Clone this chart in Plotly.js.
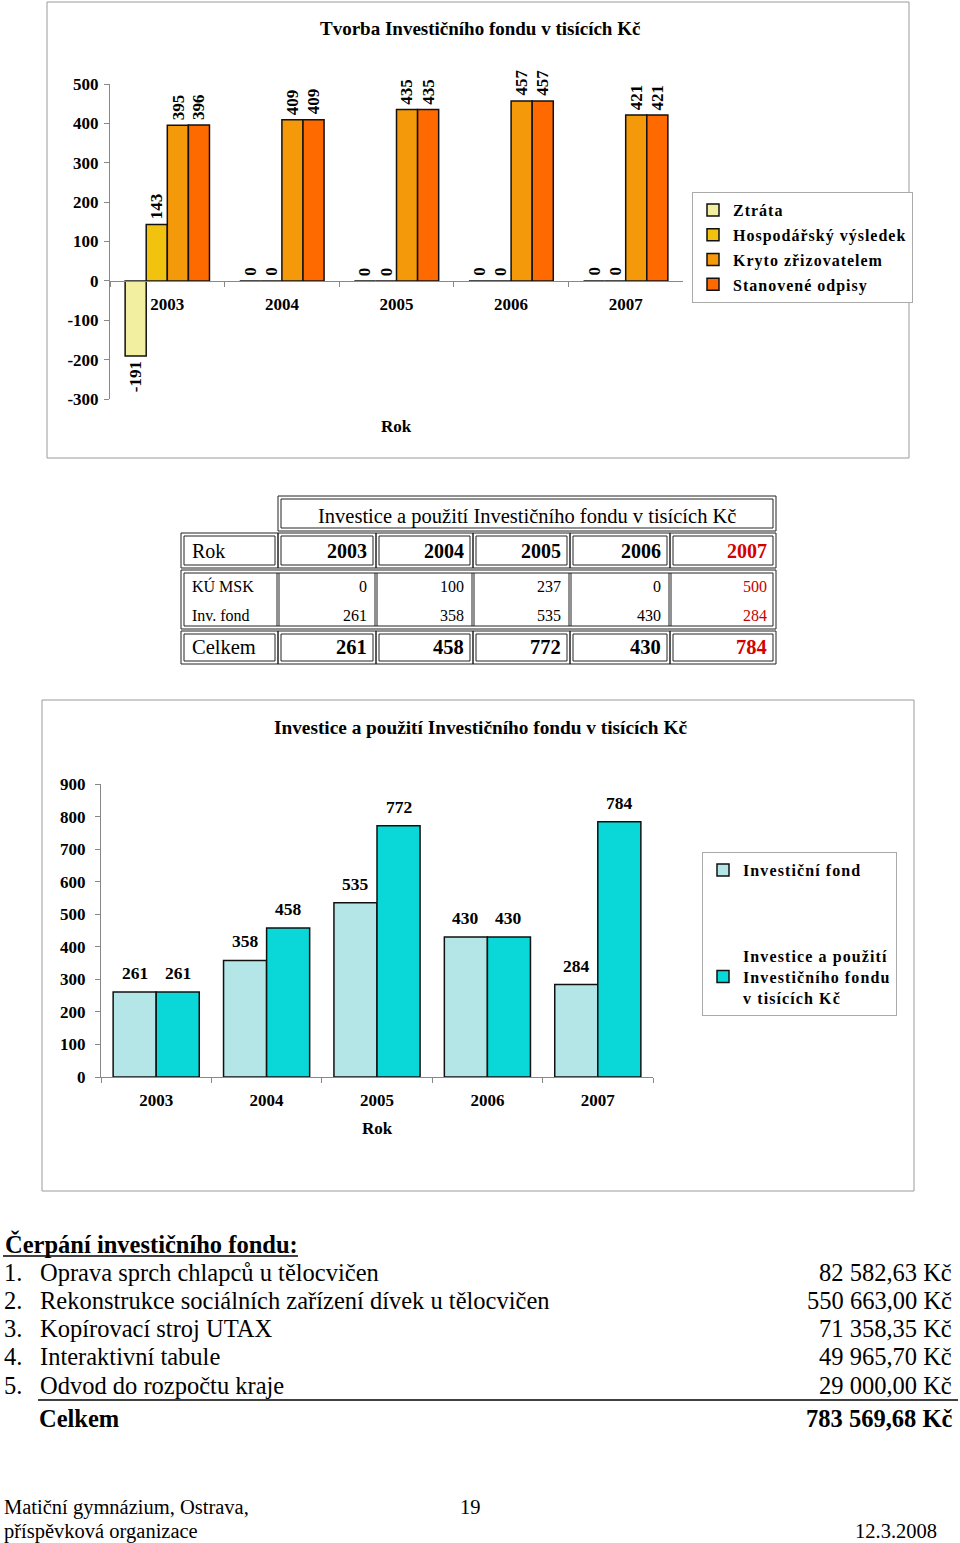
<!DOCTYPE html>
<html>
<head>
<meta charset="utf-8">
<script src="https://cdn.plot.ly/plotly-3.0.1.min.js"></script>
<style>
  html, body { margin: 0; padding: 0; background: #fff; }
  #page { width: 960px; height: 1543px; }
</style>
</head>
<body>
<div id="page"></div>
<script>
// ---------- DATA ----------
const years = ['2003', '2004', '2005', '2006', '2007'];

// Chart 1: Tvorba Investičního fondu v tisících Kč
const chart1Title = 'Tvorba Investičního fondu v tisících Kč';
const seriesNames1 = ['Ztráta', 'Hospodářský výsledek', 'Kryto zřizovatelem', 'Stanovené odpisy'];
const ztrata = [-191, 0, 0, 0, 0];
const hospVysledek = [143, 0, 0, 0, 0];
const krytoZrizovatelem = [395, 409, 435, 457, 421];
const stanoveneOdpisy = [396, 409, 435, 457, 421];
const yTicks1 = [-300, -200, -100, 0, 100, 200, 300, 400, 500];

// Table
const tableTitle = 'Investice a použití Investičního fondu v tisících Kč';
const kuMsk = [0, 100, 237, 0, 500];
const invFondRow = [261, 358, 535, 430, 284];
const celkemRow = [261, 458, 772, 430, 784];

// Chart 2: Investice a použití Investičního fondu v tisících Kč
const chart2Title = 'Investice a použití Investičního fondu v tisících Kč';
const seriesNames2 = ['Investiční fond', 'Investice a použití<br>Investičního fondu<br>v tisících Kč'];
const investicniFond = [261, 358, 535, 430, 284];
const investiceAPouziti = [261, 458, 772, 430, 784];
const yTicks2 = [0, 100, 200, 300, 400, 500, 600, 700, 800, 900];

// Text list
const listHeading = 'Čerpání investičního fondu:';
const expenseItems = ['Oprava sprch chlapců u tělocvičen',
  'Rekonstrukce sociálních zařízení dívek u tělocvičen',
  'Kopírovací stroj UTAX',
  'Interaktivní tabule',
  'Odvod do rozpočtu kraje'];
const expenseAmounts = ['82 582,63 Kč', '550 663,00 Kč', '71 358,35 Kč', '49 965,70 Kč', '29 000,00 Kč'];
const expenseTotalLabel = 'Celkem';
const expenseTotal = '783 569,68 Kč';

// ---------- HELPERS ----------
const W = 960, H = 1543;
const px = x => x / W;
const py = y => 1 - y / H;
const SERIF = '"Liberation Serif", "Times New Roman", serif';

const shapes = [];
const annotations = [];

function rect(x0, y0, x1, y1, color, width) {
  shapes.push({type: 'rect', xref: 'paper', yref: 'paper',
    x0: px(x0), x1: px(x1), y0: py(y1), y1: py(y0),
    line: {color: color || '#000', width: width || 1}, fillcolor: 'rgba(0,0,0,0)'});
}
function dblRect(x0, y0, x1, y1) {
  rect(x0, y0, x1, y1, '#222', 1);
  rect(x0 + 3, y0 + 3, x1 - 3, y1 - 3, '#222', 1);
}
function hline(x0, x1, y, color, width) {
  shapes.push({type: 'line', xref: 'paper', yref: 'paper',
    x0: px(x0), x1: px(x1), y0: py(y), y1: py(y), line: {color: color || '#000', width: width || 1}});
}
function vline(x, y0, y1, color, width) {
  shapes.push({type: 'line', xref: 'paper', yref: 'paper',
    x0: px(x), x1: px(x), y0: py(y0), y1: py(y1), line: {color: color || '#000', width: width || 1}});
}
function text(t, x, y, opts) {
  opts = opts || {};
  annotations.push({xref: 'paper', yref: 'paper', x: px(x), y: py(y), text: t,
    showarrow: false, xanchor: opts.anchor || 'left', yanchor: 'middle',
    font: {family: opts.family || SERIF, size: opts.size || 16, color: opts.color || '#000'}});
}
const spaced = (t, ls) => t.split('<br>').map(s => '<span style="letter-spacing:' + ls + 'px">' + s + '</span>').join('<br>');

// ---------- CHART 1 ----------
const vals1 = [ztrata, hospVysledek, krytoZrizovatelem, stanoveneOdpisy];
const colors1 = ['#F3EFA0', '#F2C30E', '#F4990A', '#FF6A00'];
const w1 = 0.184;
const off1 = [-2 * w1, -w1, 0, w1];
const traces = [];
vals1.forEach((v, s) => {
  traces.push({type: 'bar', x: years, y: v, name: spaced(seriesNames1[s], 1.0),
    xaxis: 'x', yaxis: 'y', width: w1, offset: off1[s], legend: 'legend', legendgroup: 'g1_' + s,
    marker: {color: colors1[s], line: {color: '#111', width: 1.5}}, hoverinfo: 'none'});
  v.forEach((val, j) => {
    annotations.push({xref: 'x', yref: 'y', x: j + off1[s] + w1 / 2, y: val,
      text: '<b>' + val + '</b>', showarrow: false, textangle: -90,
      xanchor: 'center', yanchor: val < 0 ? 'top' : 'bottom', yshift: val < 0 ? -3 : 3,
      font: {family: SERIF, size: 17, color: '#000'}});
  });
});
rect(47, 2, 909, 458, '#9a9a9a', 1);
text('<b>' + chart1Title + '</b>', 480, 29, {anchor: 'center', size: 19});
text('<b>Rok</b>', 396, 427, {anchor: 'center', size: 17});

// ---------- TABLE ----------
const cb = [181, 278, 376, 473, 570, 670, 776];
dblRect(cb[1], 496, cb[6], 531);
text(tableTitle, (cb[1] + cb[6]) / 2, 517, {anchor: 'center', size: 20.5});
// Rok row
for (let c = 0; c < 6; c++) dblRect(cb[c], 533, cb[c + 1], 568);
text('Rok', 190, 551, {size: 20});
years.forEach((yr, j) => text('<b>' + yr + '</b>', cb[j + 2] - 7, 551,
  {anchor: 'right', size: 20, color: j === 4 ? '#D40000' : '#000'}));
// middle rows
dblRect(cb[0], 570, cb[6], 629);
for (let c = 1; c < 6; c++) {
  vline(cb[c] - 1, 573, 626, '#222', 1);
  vline(cb[c] + 1, 573, 626, '#222', 1);
}
text('KÚ MSK', 190, 586, {size: 16});
text('Inv. fond', 190, 615, {size: 16});
kuMsk.forEach((v, j) => text(String(v), cb[j + 2] - 7, 586,
  {anchor: 'right', size: 16, color: j === 4 ? '#C80000' : '#000'}));
invFondRow.forEach((v, j) => text(String(v), cb[j + 2] - 7, 615,
  {anchor: 'right', size: 16, color: j === 4 ? '#C80000' : '#000'}));
// Celkem row
for (let c = 0; c < 6; c++) dblRect(cb[c], 631, cb[c + 1], 664);
text('Celkem', 190, 647, {size: 20.5});
celkemRow.forEach((v, j) => text('<b>' + v + '</b>', cb[j + 2] - 7, 647,
  {anchor: 'right', size: 20.5, color: j === 4 ? '#D40000' : '#000'}));

// ---------- CHART 2 ----------
const vals2 = [investicniFond, investiceAPouziti];
const colors2 = ['#B4E6E8', '#0AD8D8'];
const w2 = 0.39;
const off2 = [-w2, 0];
vals2.forEach((v, s) => {
  traces.push({type: 'bar', x: years, y: v, name: spaced(seriesNames2[s], 1.1),
    xaxis: 'x2', yaxis: 'y2', width: w2, offset: off2[s], legend: 'legend2', legendgroup: 'g2_' + s,
    marker: {color: colors2[s], line: {color: '#111', width: 1.5}}, hoverinfo: 'none'});
  v.forEach((val, j) => {
    annotations.push({xref: 'x2', yref: 'y2', x: j + off2[s] + w2 / 2, y: val,
      text: '<b>' + val + '</b>', showarrow: false,
      xanchor: 'center', yanchor: 'bottom', yshift: 7,
      font: {family: SERIF, size: 17.5, color: '#000'}});
  });
});
rect(42, 700, 914, 1191, '#9a9a9a', 1);
text('<b>' + chart2Title + '</b>', 480, 727, {anchor: 'center', size: 19.3});
text('<b>Rok</b>', 377, 1128, {anchor: 'center', size: 17});

// ---------- TEXT LIST ----------
text('<b>' + listHeading + '</b>', 3, 1244, {size: 24.5});
hline(3, 298, 1256, '#000', 1.5);
expenseItems.forEach((it, i) => {
  const y = 1272 + i * 28.3;
  text((i + 1) + '.', 2, y, {size: 24.5});
  text(it, 38, y, {size: 24.5});
  text(expenseAmounts[i], 954, y, {anchor: 'right', size: 24.5});
});
hline(38, 958, 1400, '#000', 1.5);
text('<b>' + expenseTotalLabel + '</b>', 37, 1418, {size: 24.5});
text('<b>' + expenseTotal + '</b>', 954, 1418, {anchor: 'right', size: 24.5});

// footer
text('Matiční gymnázium, Ostrava,', 2, 1507, {size: 20.5});
text('19', 470, 1507, {anchor: 'center', size: 20.5});
text('příspěvková organizace', 2, 1531, {size: 20.5});
text('12.3.2008', 939, 1531, {anchor: 'right', size: 20.5});

// ---------- LAYOUT ----------
const tickFont = {family: SERIF, size: 17, color: '#000', weight: 'bold'};
const tickText1 = yTicks1.map(v => String(v));
const tickText2 = yTicks2.map(v => String(v));
const layout = {
  width: W, height: H,
  margin: {l: 0, r: 0, t: 0, b: 0},
  paper_bgcolor: '#fff', plot_bgcolor: 'rgba(0,0,0,0)',
  barmode: 'overlay',
  showlegend: true,
  xaxis: {domain: [px(110), px(683)], type: 'category', range: [-0.5, 4.5],
    anchor: 'free', position: py(281), tickson: 'boundaries', ticks: 'outside', ticklen: 5,
    tickcolor: '#888', showline: true, linecolor: '#888', linewidth: 1, showgrid: false,
    zeroline: false, tickfont: tickFont, ticklabelstandoff: 8, fixedrange: true},
  yaxis: {domain: [py(399), py(84)], range: [-300, 500], tickvals: yTicks1, ticktext: tickText1,
    ticks: 'outside', ticklen: 5, tickcolor: '#888', showline: true, linecolor: '#888', showgrid: false,
    zeroline: false, tickfont: tickFont, anchor: 'x', ticklabelstandoff: 2, fixedrange: true},
  xaxis2: {domain: [px(101), px(653)], type: 'category', range: [-0.5, 4.5], anchor: 'y2',
    tickson: 'boundaries', ticks: 'outside', ticklen: 5, tickcolor: '#888', showline: true,
    linecolor: '#888', showgrid: false, zeroline: false, tickfont: tickFont,
    ticklabelstandoff: 8, fixedrange: true},
  yaxis2: {domain: [py(1077), py(784)], range: [0, 900], tickvals: yTicks2, ticktext: tickText2,
    ticks: 'outside', ticklen: 5, tickcolor: '#888', showline: true, linecolor: '#888', showgrid: false,
    zeroline: false, tickfont: tickFont, anchor: 'x2', ticklabelstandoff: 6, fixedrange: true},
  legend: {x: px(692), y: py(192), xanchor: 'left', yanchor: 'top', bgcolor: '#fff',
    bordercolor: '#aaa', borderwidth: 1, tracegroupgap: 1, itemwidth: 30,
    font: {family: SERIF, size: 16, color: '#000', weight: 'bold'}},
  legend2: {x: px(702), y: py(852), xanchor: 'left', yanchor: 'top', bgcolor: '#fff',
    bordercolor: '#aaa', borderwidth: 1, tracegroupgap: 62, itemwidth: 30,
    font: {family: SERIF, size: 16, color: '#000', weight: 'bold'}},
  shapes: shapes,
  annotations: annotations
};

Plotly.newPlot('page', traces, layout, {staticPlot: true, displayModeBar: false});
</script>
</body>
</html>
